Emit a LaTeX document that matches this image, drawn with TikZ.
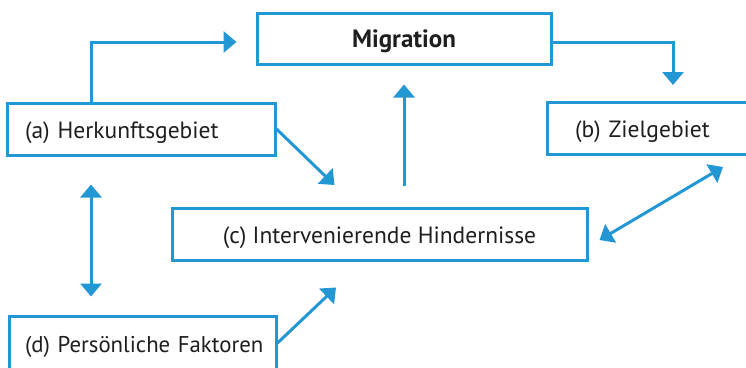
\documentclass[tikz,border=0pt]{standalone}
\usepackage{fontspec}
\setmainfont{PT Sans}
\usetikzlibrary{positioning}
\usetikzlibrary{calc}
\usetikzlibrary{arrows.meta}
\definecolor{mblue}{RGB}{35,150,212}
\definecolor{mtext}{RGB}{30,30,30}

\begin{document}
\begin{tikzpicture}[x=1pt, y=-1pt,
        box/.style={draw=mblue, line width=3pt, text=mtext, font=\fontsize{23.5}{26}\selectfont, minimum height=52pt, inner ysep=0pt, text height=18pt, text depth=0pt},
        arr/.style={-{Triangle[width=21pt,length=13pt]}, line width=3pt, mblue},
        darr/.style={arr, {Triangle[width=21pt,length=13pt]}-{Triangle[width=21pt,length=13pt]}}]
            \useasboundingbox (0,0) rectangle (746,367);
            \node[box, minimum width=294pt, minimum height=51pt, font=\fontsize{25}{28}\selectfont\bfseries] (mig) at (404,38.5) {Migration};
            \node[box, inner xsep=18pt, text width=232pt, align=left] (herk) at (141,129) {(a) Herkunftsgebiet};
            \node[box, inner xsep=28pt, text width=196pt, align=left] (ziel) at (673,128.5) {(b) Zielgebiet};
            \node[box, minimum width=415pt] (hind) at (379.5,234) {(c) Intervenierende Hindernisse};
            \node[box, inner xsep=16pt, text width=235pt, align=left, minimum height=54pt, font=\fontsize{22.8}{26}\selectfont] (pers) at (142.5,343) {\mbox{(d) Persönliche Faktoren}};

            \draw[arr] ([xshift=-50pt]herk.north) |- ([xshift=-19pt,yshift=-3.5pt]mig.west);
            \draw[arr] ([yshift=-3.5pt]mig.east) -| ([yshift=16pt]ziel.north);
            \draw[arr] (herk.east) -- ++(58,56);
            \draw[arr] ([xshift=24.5pt,yshift=21pt]hind.north) -- ([yshift=-19pt]mig.south);
            \draw[darr] ([xshift=-50pt,yshift=-28pt]herk.south) -- ([xshift=-51.5pt,yshift=18pt]pers.north);
            \draw[darr] ([xshift=11pt,yshift=-6pt]hind.east) -- ([xshift=50pt,yshift=-11pt]ziel.south);
            \draw[arr] (pers.east) -- ([xshift=-43.5pt,yshift=-26pt]hind.south);
        \end{tikzpicture}
\end{document}
